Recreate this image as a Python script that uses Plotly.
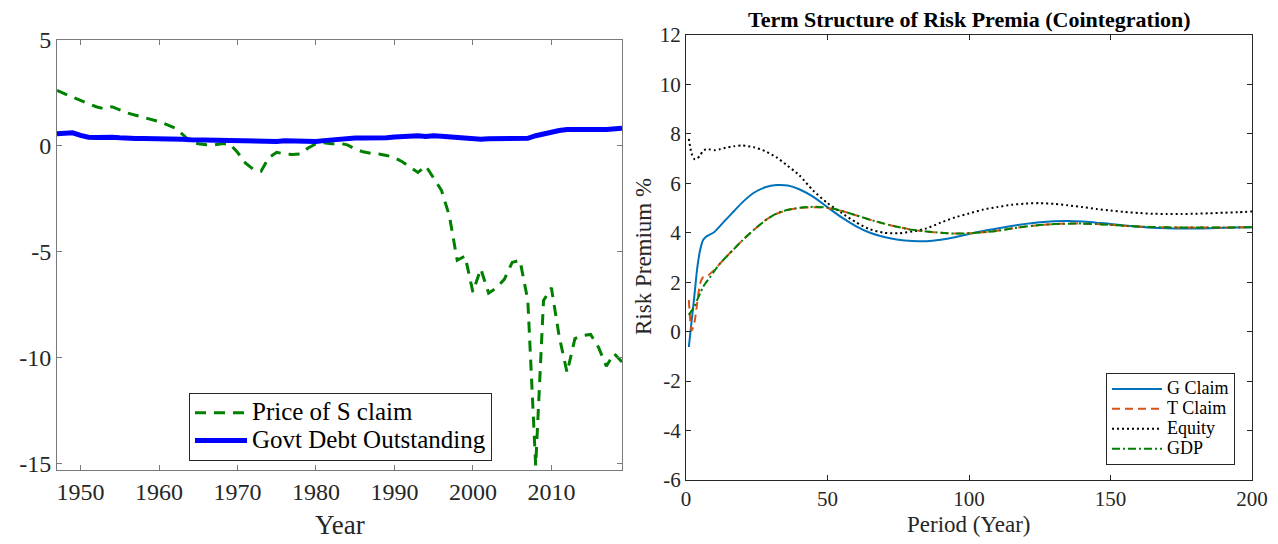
import plotly.graph_objects as go

# ---------------- Left panel data ----------------
years = list(range(1947, 2020))
price_s_claim = [2.62, 2.45, 2.3, 2.15, 2.0, 1.85, 1.75, 1.85, 1.7, 1.55,
                 1.45, 1.35, 1.25, 1.15, 1.0, 0.85, 0.55, 0.2, 0.1, 0.05,
                 0.05, 0.1, 0.1, -0.3, -0.8, -1.1, -1.2, -0.55, -0.3, -0.38,
                 -0.4, -0.38, -0.1, 0.1, 0.15, 0.1, 0.12, 0.05, -0.15, -0.28,
                 -0.35, -0.38, -0.45, -0.55, -0.75, -1.0, -1.25, -0.95, -1.5, -2.1,
                 -3.3, -5.4, -5.2, -6.9, -5.8, -6.95, -6.7, -6.3, -5.5, -5.4,
                 -7.3, -15.1, -7.3, -6.7, -9.0, -10.7, -9.1, -8.95, -8.9, -9.5,
                 -10.4, -9.8, -10.2]
govt_debt = [0.57, 0.58, 0.62, 0.5, 0.41, 0.4, 0.42, 0.41, 0.38, 0.35,
             0.35, 0.35, 0.35, 0.35, 0.34, 0.33, 0.31, 0.29, 0.28, 0.27,
             0.26, 0.25, 0.24, 0.25, 0.24, 0.21, 0.18, 0.18, 0.21, 0.24,
             0.23, 0.21, 0.2, 0.21, 0.25, 0.29, 0.31, 0.34, 0.37, 0.37,
             0.36, 0.37, 0.39, 0.42, 0.45, 0.47, 0.48, 0.44, 0.48, 0.46,
             0.43, 0.4, 0.36, 0.32, 0.31, 0.34, 0.35, 0.35, 0.35, 0.33,
             0.36, 0.48, 0.58, 0.65, 0.73, 0.77, 0.76, 0.77, 0.78, 0.78,
             0.78, 0.8, 0.83]
left_xticks = [1950, 1960, 1970, 1980, 1990, 2000, 2010]
left_yticks = [-15, -10, -5, 0, 5]
left_yticklabels = ["-15", "-10", "-5", "0", "5"]

# ---------------- Right panel data ----------------
periods = [1, 2, 3, 4, 5, 6, 7, 8, 10, 12, 14, 17, 20, 24, 28, 32, 36, 40, 45, 50,
           55, 60, 65, 70, 75, 80, 85, 90, 95, 100, 105, 110, 115, 120, 125, 130,
           135, 140, 145, 150, 155, 160, 165, 170, 175, 180, 185, 190, 195, 200]
g_claim = [-0.62, 0.45, 1.5, 2.6, 3.3, 3.7, 3.83, 3.9, 4.03, 4.27, 4.52, 4.88, 5.24,
           5.62, 5.84, 5.93, 5.91, 5.76, 5.45, 5.03, 4.62, 4.27, 4.0, 3.83, 3.72,
           3.67, 3.66, 3.72, 3.82, 3.95, 4.07, 4.17, 4.27, 4.36, 4.43, 4.47, 4.48,
           4.46, 4.41, 4.36, 4.29, 4.24, 4.2, 4.18, 4.17, 4.17, 4.18, 4.2, 4.21, 4.22]
t_claim = [1.28, 0.05, 0.38, 1.2, 1.95, 2.2, 2.25, 2.3, 2.5, 2.75, 3.0, 3.35, 3.7,
           4.12, 4.5, 4.77, 4.92, 5.0, 5.03, 5.0, 4.88, 4.71, 4.53, 4.37, 4.23,
           4.12, 4.05, 4.0, 3.97, 3.98, 4.02, 4.08, 4.17, 4.25, 4.31, 4.35, 4.37,
           4.37, 4.35, 4.32, 4.28, 4.25, 4.23, 4.22, 4.21, 4.21, 4.21, 4.21, 4.22, 4.22]
equity = [7.8, 7.2, 6.98, 7.0, 7.15, 7.3, 7.38, 7.38, 7.34, 7.38, 7.44, 7.5, 7.53,
          7.46, 7.3, 7.05, 6.7, 6.33, 5.7, 5.2, 4.8, 4.43, 4.14, 4.0, 3.98, 4.05,
          4.18, 4.41, 4.62, 4.78, 4.94, 5.04, 5.13, 5.18, 5.2, 5.17, 5.11, 5.04,
          4.96, 4.9, 4.84, 4.8, 4.77, 4.76, 4.76, 4.77, 4.79, 4.81, 4.83, 4.86]
gdp = [0.68, 0.85, 1.02, 1.3, 1.55, 1.8, 1.98, 2.12, 2.45, 2.75, 3.0, 3.35, 3.7,
       4.12, 4.5, 4.78, 4.93, 5.01, 5.05, 5.02, 4.89, 4.71, 4.53, 4.37, 4.23,
       4.12, 4.05, 4.0, 3.97, 3.98, 4.02, 4.08, 4.17, 4.25, 4.31, 4.35, 4.37,
       4.37, 4.35, 4.32, 4.28, 4.25, 4.23, 4.22, 4.21, 4.21, 4.21, 4.21, 4.22, 4.22]
right_xticks = [0, 50, 100, 150, 200]
right_yticks = [-6, -4, -2, 0, 2, 4, 6, 8, 10, 12]
right_yticklabels = ["-6", "-4", "-2", "0", "2", "4", "6", "8", "10", "12"]

FONT = "Liberation Serif"
OFF = 8                      # page body margin of the rendered html
W, H = 1278 - OFF, 544 - OFF

def px(X):
    return (X - OFF) / W

def py(Y):
    return 1 - (Y - OFF) / H

def big(name, size):
    return '<span style="font-size:%dpx">%s</span>' % (size, name)

fig = go.Figure()

# Left panel traces
fig.add_trace(go.Scatter(x=years, y=price_s_claim, mode="lines", name=big("Price of S claim", 25),
                         line=dict(color="rgb(0,128,0)", width=3, dash="11px,8px"),
                         xaxis="x", yaxis="y", legend="legend"))
fig.add_trace(go.Scatter(x=years, y=govt_debt, mode="lines", name=big("Govt Debt Outstanding", 25),
                         line=dict(color="rgb(0,0,255)", width=5),
                         xaxis="x", yaxis="y", legend="legend"))

# Right panel traces
fig.add_trace(go.Scatter(x=periods, y=g_claim, mode="lines", name=big("G Claim", 18),
                         line=dict(color="#0072BD", width=2, shape="spline", smoothing=0.7),
                         xaxis="x2", yaxis="y2", legend="legend2"))
fig.add_trace(go.Scatter(x=periods, y=t_claim, mode="lines", name=big("T Claim", 18),
                         line=dict(color="#D95319", width=2, dash="8px,5px", shape="spline", smoothing=0.7),
                         xaxis="x2", yaxis="y2", legend="legend2"))
fig.add_trace(go.Scatter(x=periods, y=equity, mode="lines", name=big("Equity", 18),
                         line=dict(color="black", width=2, dash="2px,3px", shape="spline", smoothing=0.7),
                         xaxis="x2", yaxis="y2", legend="legend2"))
fig.add_trace(go.Scatter(x=periods, y=gdp, mode="lines", name=big("GDP", 18),
                         line=dict(color="rgb(0,128,0)", width=2, dash="8px,3px,2px,3px", shape="spline", smoothing=0.7),
                         xaxis="x2", yaxis="y2", legend="legend2"))

# Geometry in screenshot pixels
L = dict(x0=57, x1=622, y0=40, y1=470)
R = dict(x0=686, x1=1252, y0=35, y1=480)

axis_common = dict(showline=True, mirror="ticks", ticks="inside", ticklen=5,
                   showgrid=False, zeroline=False, automargin=False)

fig.update_layout(
    width=W, height=H,
    margin=dict(l=0, r=0, t=0, b=0, pad=0, autoexpand=False),
    paper_bgcolor="white", plot_bgcolor="white",
    font=dict(family=FONT, color="#262626"),
    xaxis=dict(domain=[px(L["x0"]), px(L["x1"])], range=[1947, 2019], tickvals=left_xticks,
               linecolor="#7a7a7a", tickcolor="#7a7a7a", tickfont=dict(size=24, color="#262626"),
               anchor="y", **axis_common),
    yaxis=dict(domain=[py(L["y1"]), py(L["y0"])], range=[-15.3, 5], tickvals=left_yticks,
               ticktext=left_yticklabels,
               linecolor="#7a7a7a", tickcolor="#7a7a7a", tickfont=dict(size=24, color="#262626"),
               anchor="x", **axis_common),
    xaxis2=dict(domain=[px(R["x0"]), px(R["x1"])], range=[0, 200], tickvals=right_xticks,
                linecolor="#262626", tickcolor="#262626", tickfont=dict(size=21, color="#262626"),
                anchor="y2", **axis_common),
    yaxis2=dict(domain=[py(R["y1"]), py(R["y0"])], range=[-6, 12], tickvals=right_yticks,
                ticktext=right_yticklabels,
                linecolor="#262626", tickcolor="#262626", tickfont=dict(size=21, color="#262626"),
                anchor="x2", **axis_common),
    legend=dict(x=px(189), y=py(393), xanchor="left", yanchor="top",
                bgcolor="white", bordercolor="#262626", borderwidth=1,
                font=dict(family=FONT, size=19, color="black"), itemwidth=52,
                tracegroupgap=0),
    legend2=dict(x=px(1106), y=py(373), xanchor="left", yanchor="top",
                 bgcolor="white", bordercolor="#262626", borderwidth=1,
                 font=dict(family=FONT, size=13, color="black"), itemwidth=50,
                 tracegroupgap=0),
    showlegend=True,
)

# Axis labels and title as annotations
ann = dict(xref="paper", yref="paper", showarrow=False, xanchor="center", yanchor="middle")
fig.add_annotation(text="Year", x=px((L["x0"] + L["x1"]) / 2), y=py(525),
                   font=dict(family=FONT, size=27, color="#262626"), **ann)
fig.add_annotation(text="Period (Year)", x=px((R["x0"] + R["x1"]) / 2), y=py(524),
                   font=dict(family=FONT, size=23, color="#262626"), **ann)
fig.add_annotation(text="Risk Premium %", x=px(643), y=py(257), textangle=-90,
                   font=dict(family=FONT, size=23, color="#262626"), **ann)
fig.add_annotation(text="<b>Term Structure of Risk Premia (Cointegration)</b>",
                   x=px((R["x0"] + R["x1"]) / 2), y=py(20),
                   font=dict(family=FONT, size=22, color="black"), **ann)

fig.write_html("out.html")
